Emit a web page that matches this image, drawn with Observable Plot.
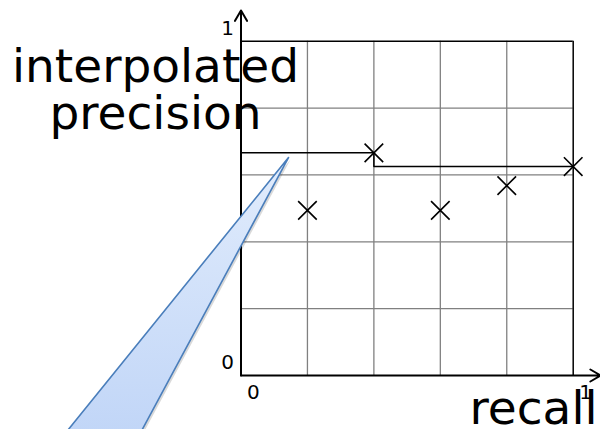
<!DOCTYPE html>
<html>
<head>
<meta charset="utf-8">
<script src="https://cdn.jsdelivr.net/npm/d3@7"></script>
<script src="https://cdn.jsdelivr.net/npm/@observablehq/plot@0.6"></script>
<style>
  html, body { margin: 0; padding: 0; background: #fff; }
</style>
</head>
<body>
<div id="chart"></div>
<script>
// Observed (recall, precision) points
const recall = [0.2, 0.4, 0.6, 0.8, 1.0];
const precision = [0.494, 0.666, 0.494, 0.568, 0.625];

// Interpolated precision step line
const interpRecall = [0, 0.4, 1.0];
const interpPrecision = [0.666, 0.625, 0.625];

// Grid ticks and axis tick labels
const gridTicks = [0.2, 0.4, 0.6, 0.8];
const tickValues = [0, 1];
const tickLabels = ["0", "1"];

// Axis titles
const yTitle = "interpolated\nprecision";
const xTitle = "recall";

// Callout (speech-bubble pointer) polygon, in data units
const calloutX = [0.143, -0.318, -0.551, 0.143];
const calloutY = [0.652, -0.2, -0.2, 0.652];

const points = recall.map((r, i) => ({recall: r, precision: precision[i]}));
const interp = interpRecall.map((r, i) => ({recall: r, precision: interpPrecision[i]}));
const callout = calloutX.map((x, i) => ({x, y: calloutY[i]}));
const ticks = tickValues.map((v, i) => ({v, label: tickLabels[i]}));

const chart = Plot.plot({
  width: 600,
  height: 429,
  marginLeft: 240.5,
  marginRight: 27.3,
  marginTop: 40.7,
  marginBottom: 54,
  x: {domain: [0, 1], axis: null},
  y: {domain: [0, 1], axis: null},
  style: {fontFamily: "DejaVu Sans", background: "#fff", color: "#000"},
  marks: [
    Plot.gridX(gridTicks, {stroke: "#808080", strokeOpacity: 1, strokeWidth: 1.3}),
    Plot.gridY(gridTicks, {stroke: "#808080", strokeOpacity: 1, strokeWidth: 1.3}),
    Plot.ruleX([1], {stroke: "#000", strokeWidth: 1.5}),
    Plot.ruleY([1], {stroke: "#000", strokeWidth: 1.5}),
    Plot.line(interp, {x: "recall", y: "precision", curve: "step-after", stroke: "#000", strokeWidth: 1.5}),
    Plot.dot(points, {x: "recall", y: "precision", symbol: "times", r: 8.5, stroke: "#000", strokeWidth: 1.6}),
    // axes with arrows
    Plot.arrow([{x1: 0, y1: 0, x2: 1.083, y2: 0}], {x1: "x1", y1: "y1", x2: "x2", y2: "y2", stroke: "#000", strokeWidth: 2, headLength: 9, clip: false}),
    Plot.arrow([{x1: 0, y1: 0, x2: 0, y2: 1.092}], {x1: "x1", y1: "y1", x2: "x2", y2: "y2", stroke: "#000", strokeWidth: 2, headLength: 9, clip: false}),
    // tick labels
    Plot.text(ticks, {x: 0, y: "v", text: "label", textAnchor: "end", lineAnchor: "bottom", dx: -7, dy: -6.5, fontSize: 20, fill: "#000"}),
    Plot.text(ticks, {x: "v", y: 0, text: "label", textAnchor: "start", lineAnchor: "bottom", dx: 6, dy: 23, fontSize: 20, fill: "#000"}),
    // axis titles
    Plot.text([yTitle], {frameAnchor: "top-left", text: d => d, textAnchor: "middle", lineAnchor: "bottom", lineHeight: 0.98, dx: -85.5, dy: 87.3, fontSize: 47, fill: "#000"}),
    Plot.text([xTitle], {frameAnchor: "bottom-right", text: d => d, textAnchor: "end", lineAnchor: "bottom", dx: 24.3, dy: 48, fontSize: 47, fill: "#000"}),
    // callout shadow and callout
    Plot.line(callout, {x: "x", y: "y", dx: 2, dy: 2, stroke: "none", fill: "#000", fillOpacity: 0.15, clip: false}),
    Plot.line(callout, {x: "x", y: "y", stroke: "#4a7ebb", strokeWidth: 1.6, fill: "url(#calloutGrad)", strokeLinejoin: "miter", clip: false})
  ]
});

chart.insertAdjacentHTML("afterbegin",
  '<defs><linearGradient id="calloutGrad" x1="0" y1="0" x2="0" y2="1">' +
  '<stop offset="0" stop-color="#e1ecfc"/><stop offset="1" stop-color="#c0d5f7"/>' +
  '</linearGradient></defs>');

document.getElementById("chart").appendChild(chart);
</script>
</body>
</html>
